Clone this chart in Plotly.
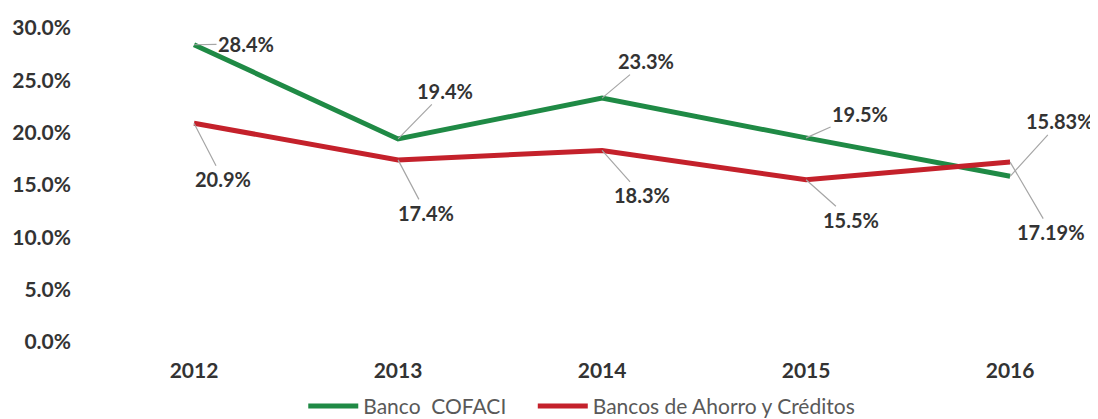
import plotly.graph_objects as go

anios = ['2012', '2013', '2014', '2015', '2016']
cofaci = [28.4, 19.4, 23.3, 19.5, 15.83]
ahorro = [20.9, 17.4, 18.3, 15.5, 17.19]
cofaci_txt = ['28.4%', '19.4%', '23.3%', '19.5%', '15.83%']
ahorro_txt = ['20.9%', '17.4%', '18.3%', '15.5%', '17.19%']

verde = '#1f8a45'
rojo = '#c4212b'
fuente = 'Lato'

fig = go.Figure()
fig.add_trace(go.Scatter(x=anios, y=cofaci, mode='lines', name='Banco  COFACI\u00a0\u00a0\u00a0\u00a0',
                         line=dict(color=verde, width=5)))
fig.add_trace(go.Scatter(x=anios, y=ahorro, mode='lines', name='Bancos de Ahorro y Créditos',
                         line=dict(color=rojo, width=5)))

# desplazamientos de las etiquetas (pixeles)
off_cofaci = [(52, -1), (47, -48), (44, -37), (54, -24), (50, -55)]
off_ahorro = [(29, 56), (28, 53), (40, 45), (45, 40), (41, 70)]

for serie, textos, offs in [(cofaci, cofaci_txt, off_cofaci), (ahorro, ahorro_txt, off_ahorro)]:
    for i, (y, t, (dx, dy)) in enumerate(zip(serie, textos, offs)):
        fig.add_annotation(x=i, y=y, text='<b>' + t + '</b>', ax=dx, ay=dy,
                           showarrow=True, arrowhead=0, arrowwidth=1.2,
                           arrowcolor='#a6a6a6',
                           font=dict(family=fuente, size=20, color='#333333'))

fig.update_layout(width=1098, height=419, plot_bgcolor='white', paper_bgcolor='white',
                  margin=dict(l=84, r=0, t=20, b=85),
                  font=dict(family=fuente, color='#404040'),
                  legend=dict(orientation='h', x=0.483, xanchor='center', y=-0.205,
                              yanchor='middle', font=dict(size=21, color='#595959'),
                              itemwidth=50))

fig.update_xaxes(type='category', range=[-0.5, 4.47], showgrid=False, showline=False,
                 ticks='', ticklabelstandoff=14, automargin=False,
                 tickfont=dict(family=fuente, size=21, color='#333333'),
                 tickvals=anios, ticktext=['<b>' + a + '</b>' for a in anios])

fig.update_yaxes(range=[0, 30], showgrid=False, zeroline=False, showline=False,
                 tickvals=[0, 5, 10, 15, 20, 25, 30], automargin=False,
                 ticktext=['<b>%.1f%%</b>' % v for v in [0, 5, 10, 15, 20, 25, 30]],
                 ticklabelstandoff=20,
                 tickfont=dict(family=fuente, size=21, color='#333333'))

fig.write_html("out.html")
